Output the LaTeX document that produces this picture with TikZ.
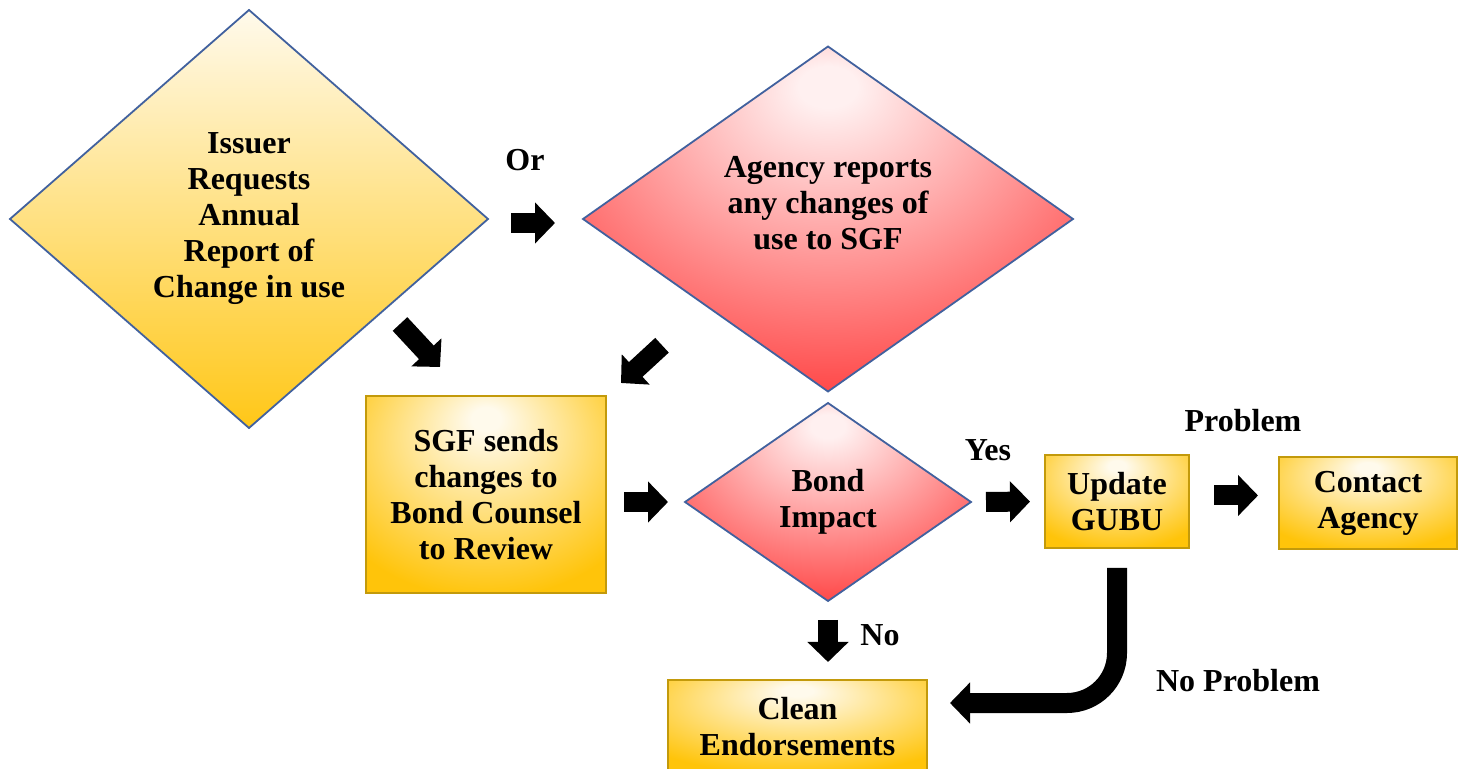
\documentclass[tikz,border=0pt]{standalone}
\usepackage{fontspec}
\setmainfont{Liberation Serif}
\usetikzlibrary{arrows.meta,positioning,shapes.geometric}
\definecolor{edgeblue}{HTML}{41619E}
\definecolor{edgegold}{HTML}{C39A0B}
\definecolor{goldlight}{HTML}{FFFAEC}
\definecolor{goldmid}{HTML}{FEE290}
\definecolor{golddark}{HTML}{FFC40A}
\definecolor{roselight}{HTML}{FFF0F0}
\definecolor{rosedark}{HTML}{FF4444}
\pgfdeclareradialshading{goldglow}{\pgfpoint{0bp}{20bp}}{color(0bp)=(goldlight); color(3bp)=(goldlight); color(36bp)=(golddark); color(70bp)=(golddark)}
\pgfdeclareradialshading{roseglow}{\pgfpoint{0bp}{20bp}}{color(0bp)=(roselight); color(3bp)=(roselight); color(36bp)=(rosedark); color(70bp)=(rosedark)}

\begin{document}
\begin{tikzpicture}[
  x=0.5pt, y=-0.5pt,
  font=\fontsize{16}{18}\selectfont\bfseries,
  decision/.style={diamond, draw=edgeblue, line width=0.9pt, inner sep=0pt, outer sep=0pt, align=center},
  stepbox/.style={rectangle, draw=edgegold, line width=1.3pt, shading=goldglow, inner sep=0pt, outer sep=0pt, align=center},
  arrow/.style={line width=10pt, -{Triangle[length=10pt, width=20pt]}}
]
\useasboundingbox (0,0) rectangle (1467,769);
\node[decision, top color=goldlight, middle color=goldmid, bottom color=golddark!90!goldmid, minimum width=239pt, minimum height=209pt] (issuer) at (249,219) {Issuer\\Requests\\Annual\\Report of\\Change in use};
\node[decision, shading=roseglow, aspect=1.4, minimum width=245pt, minimum height=172.5pt, text depth=16pt] (agency) at (828,219) {Agency reports\\any changes of\\use to SGF};
\node[stepbox, minimum width=120pt, minimum height=98.5pt] (sgf) at (486,494.5) {SGF sends\\changes to\\Bond Counsel\\to Review};
\node[decision, shading=roseglow, minimum width=143pt, minimum height=99pt] (bond) at (828,502) {Bond\\Impact};
\node[stepbox, minimum width=72pt, minimum height=46.5pt] (gubu) at (1117,501.5) {Update\\GUBU};
\node[stepbox, minimum width=89pt, minimum height=46pt] (contact) at (1368,503) {Contact\\Agency};
\node[stepbox, minimum width=129.5pt, minimum height=46.5pt] (clean) at (797.5,726.5) {Clean\\Endorsements};

\node (orlabel) at (525,160) {Or};
\node (yeslabel) at (988,450) {Yes};
\node (problabel) at (1243,421) {Problem};
\node (nolabel) at (880,635) {No};
\node (noproblabel) at (1238,681) {No Problem};

\draw[arrow, shorten <=11.5pt, shorten >=14pt] ([yshift=-2pt]issuer.east) -- ([yshift=-2pt]agency.west);
\draw[arrow] ([shift={(31.5,0.5)}]issuer.south east) -- ([shift={(74,-29)}]sgf.north west);
\draw[arrow] ([shift={(-43.5,40)}]agency.south west) -- ([shift={(15,-13)}]sgf.north east);
\draw[arrow, shorten <=9pt, shorten >=8.5pt] (sgf.east |- bond.west) -- (bond.west);
\draw[arrow, shorten <=7.5pt, shorten >=7.5pt] (bond.east) -- (gubu.west);
\draw[arrow, shorten <=12.5pt, shorten >=10.5pt] ([yshift=3pt]gubu.east) -- ([yshift=3pt]gubu.east -| contact.west);
\draw[arrow, shorten <=9.5pt, shorten >=9pt] (bond.south) -- (bond.south |- clean.north);
\draw[arrow, rounded corners=25pt, shorten <=10pt, shorten >=11.5pt] (gubu.south) |- ([yshift=11.75pt]clean.east);
\end{tikzpicture}
\end{document}
